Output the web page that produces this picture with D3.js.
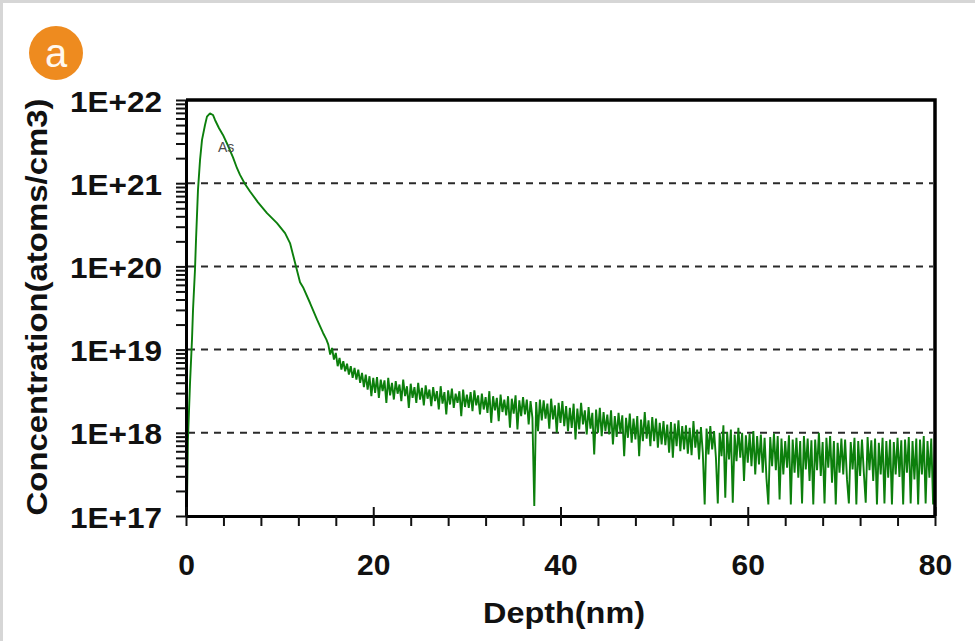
<!DOCTYPE html>
<html>
<head>
<meta charset="utf-8">
<script src="https://cdn.jsdelivr.net/npm/d3@7"></script>
<style>
  html, body { margin: 0; padding: 0; background: #fff; }
  svg { display: block; }
</style>
</head>
<body>
<svg width="975" height="641"></svg>
<script>
// SIMS depth profile of As (log10 of atoms/cm3 vs depth in nm)

// smooth part of the profile
var profileDepth = [0.1, 0.2, 0.43, 0.64, 0.75, 0.96, 1.07, 1.28, 1.5, 1.71, 2.03, 2.24, 2.56, 2.88,
  3.1, 3.53, 3.95, 4.49, 5.02, 5.45, 5.77, 6.3, 6.84, 7.69, 8.65, 9.72, 10.58, 11.11, 11.43,
  11.75, 12.18, 12.5, 13.25, 14.0, 14.64, 15.0];
var profileLog = [17.12, 17.9, 18.6, 19.12, 19.48, 19.96, 20.32, 20.92, 21.28, 21.52, 21.7, 21.8, 21.84, 21.82,
  21.76, 21.66, 21.58, 21.45, 21.31, 21.18, 21.1, 20.99, 20.9, 20.77, 20.64, 20.52, 20.4, 20.28, 20.14,
  20.0, 19.81, 19.75, 19.56, 19.36, 19.2, 19.12];

// noisy tail, one reading every 0.2 nm from 15.2 nm to 80 nm
var tailStart = 15.2, tailStep = 0.2;
var tailLog = [
  19.06, 18.94, 19.02, 18.88, 18.96,
  18.80, 18.90, 18.76, 18.86, 18.74,
  18.83, 18.70, 18.80, 18.66, 18.78,
  18.64, 18.76, 18.60, 18.72, 18.55,
  18.70, 18.52, 18.68, 18.44, 18.66,
  18.48, 18.67, 18.42, 18.64, 18.50,
  18.63, 18.36, 18.66, 18.45, 18.60,
  18.40, 18.62, 18.47, 18.58, 18.38,
  18.64, 18.44, 18.56, 18.30, 18.59,
  18.42, 18.55, 18.36, 18.60, 18.40,
  18.54, 18.33, 18.57, 18.41, 18.52,
  18.32, 18.55, 18.38, 18.50, 18.28,
  18.56, 18.35, 18.49, 18.22, 18.51,
  18.34, 18.53, 18.30, 18.47, 18.36,
  18.50, 18.20, 18.52, 18.31, 18.46,
  18.30, 18.49, 18.26, 18.51, 18.33,
  18.45, 18.22, 18.47, 18.28, 18.43,
  18.24, 18.50, 18.12, 18.44, 18.27,
  18.42, 18.14, 18.46, 18.25, 18.40,
  18.21, 18.44, 18.06, 18.41, 18.23,
  18.45, 18.04, 18.39, 18.20, 18.43,
  18.22, 18.40, 18.10, 18.38, 18.18,
  17.12, 18.37, 18.02, 18.40, 18.15,
  18.39, 18.17, 18.35, 18.05, 18.41,
  18.16, 18.33, 18.00, 18.36, 18.12,
  18.38, 18.08, 18.32, 18.02, 18.30,
  18.06, 18.35, 17.92, 18.29, 18.04,
  18.36, 18.10, 18.27, 17.98, 18.31,
  18.05, 18.24, 17.74, 18.28, 18.00,
  18.30, 17.96, 18.25, 18.02, 18.22,
  17.98, 18.27, 17.86, 18.20, 17.95,
  18.24, 18.00, 18.21, 17.72, 18.18,
  17.94, 18.23, 17.88, 18.17, 17.92,
  18.20, 17.72, 18.16, 17.90, 18.25,
  17.93, 18.15, 17.84, 18.19, 17.90,
  18.17, 17.82, 18.12, 17.86, 18.14,
  17.85, 18.10, 17.76, 18.13, 17.70,
  18.11, 17.84, 18.15, 17.78, 18.08,
  17.80, 18.09, 17.75, 18.06, 17.73,
  18.14, 17.82, 18.04, 17.68, 18.07,
  17.76, 17.14, 18.05, 17.74, 18.08,
  17.80, 18.02, 17.70, 17.15, 18.00,
  17.72, 18.09, 17.22, 18.01, 17.68,
  18.04, 17.16, 17.98, 17.66, 18.06,
  17.70, 18.00, 17.42, 17.97, 17.64,
  17.99, 17.60, 18.02, 17.50, 17.96,
  17.62, 17.98, 17.52, 17.94, 17.45,
  17.14, 17.95, 17.60, 17.99, 17.55,
  17.96, 17.20, 17.93, 17.50, 17.90,
  17.58, 17.97, 17.14, 17.92, 17.52,
  17.94, 17.46, 17.90, 17.15, 17.96,
  17.56, 17.93, 17.42, 17.91, 17.14,
  17.92, 17.55, 18.00, 17.48, 17.89,
  17.15, 17.94, 17.58, 17.96, 17.40,
  17.90, 17.14, 17.88, 17.52, 17.93,
  17.50, 17.92, 17.44, 17.15, 17.89,
  17.56, 17.94, 17.14, 17.90, 17.48,
  17.92, 17.52, 17.16, 17.95, 17.55,
  17.91, 17.42, 17.93, 17.14, 17.88,
  17.50, 17.94, 17.15, 17.90, 17.46,
  17.92, 17.14, 17.89, 17.50, 17.94,
  17.47, 17.91, 17.14, 17.92, 17.52,
  17.95, 17.15, 17.90, 17.44, 17.93,
  17.14, 17.92, 17.50, 17.96, 17.15,
  17.90, 17.46, 17.93, 17.14, 17.88
];

var xTicks = [0, 20, 40, 60, 80];
var yDecades = [1e17, 1e18, 1e19, 1e20, 1e21, 1e22];
var yTickLabels = ["1E+17", "1E+18", "1E+19", "1E+20", "1E+21", "1E+22"];
var gridDecades = [1e18, 1e19, 1e20, 1e21];

var plot = {left: 186, right: 935, top: 100, bottom: 516};
var font = "'Liberation Sans', Arial, sans-serif";
var green = "#0c7f0c";

var svg = d3.select("svg");

// light frame of the picture
svg.append("rect")
  .attr("x", 1.5).attr("y", 1.5)
  .attr("width", 980).attr("height", 650)
  .attr("fill", "none")
  .attr("stroke", "#d6d6d6")
  .attr("stroke-width", 3);

var xScale = d3.scaleLinear().domain([0, 80]).range([plot.left, plot.right]);
var yScale = d3.scaleLog().domain([1e17, 1e22]).range([plot.bottom, plot.top]);

// gridlines
svg.append("g")
  .selectAll("line")
  .data(gridDecades)
  .enter()
  .append("line")
  .attr("x1", plot.left + 2)
  .attr("x2", plot.right - 2)
  .attr("y1", function(d) { return yScale(d); })
  .attr("y2", function(d) { return yScale(d); })
  .attr("stroke", "#2a2a2a")
  .attr("stroke-width", 2)
  .attr("stroke-dasharray", "7,6");

// data
var points = [];
profileDepth.forEach(function(d, i) {
  points.push([d, Math.pow(10, profileLog[i])]);
});
tailLog.forEach(function(v, i) {
  points.push([tailStart + i * tailStep, Math.pow(10, v)]);
});

svg.append("clipPath").attr("id", "clip")
  .append("rect")
  .attr("x", plot.left).attr("y", plot.top)
  .attr("width", plot.right - plot.left).attr("height", plot.bottom - plot.top);

var line = d3.line()
  .x(function(d) { return xScale(d[0]); })
  .y(function(d) { return yScale(d[1]); });

svg.append("path")
  .datum(points)
  .attr("clip-path", "url(#clip)")
  .attr("d", line)
  .attr("fill", "none")
  .attr("stroke", green)
  .attr("stroke-width", 1.9)
  .attr("stroke-linejoin", "bevel");

svg.append("text")
  .attr("x", 218).attr("y", 152)
  .attr("font-family", font)
  .attr("font-size", 14)
  .attr("fill", "#4a4a4a")
  .text("As");

// y axis: decades plus 2..9 minors
var yTickValues = [];
yDecades.forEach(function(d) {
  for (var k = 1; k < 10; k++) {
    if (d * k <= 1e22) yTickValues.push(d * k);
  }
});

var yAxis = d3.axisLeft(yScale)
  .tickValues(yTickValues)
  .tickSize(10)
  .tickSizeOuter(0)
  .tickFormat(function(d) {
    var i = yDecades.indexOf(d);
    return i >= 0 ? yTickLabels[i] : "";
  });

var gy = svg.append("g")
  .attr("transform", "translate(" + plot.left + ",0)")
  .call(yAxis);
gy.select(".domain").attr("stroke", "#000").attr("stroke-width", 3);
gy.selectAll(".tick line").attr("stroke", "#111").attr("stroke-width", 2);
gy.selectAll(".tick text")
  .attr("x", -24)
  .attr("dy", 11)
  .attr("font-family", font)
  .attr("font-size", 30)
  .attr("font-weight", "bold")
  .attr("fill", "#111")
  .attr("textLength", function() { return this.textContent ? 92 : null; })
  .attr("lengthAdjust", "spacingAndGlyphs");

// x axis: minors every 4 nm
var xTickValues = d3.range(0, 81, 4);
var xAxis = d3.axisBottom(xScale)
  .tickValues(xTickValues)
  .tickSize(10)
  .tickSizeOuter(0)
  .tickFormat(function(d) { return xTicks.indexOf(d) >= 0 ? d : ""; });

var gx = svg.append("g")
  .attr("transform", "translate(0," + plot.bottom + ")")
  .call(xAxis);
gx.select(".domain").attr("stroke", "#000").attr("stroke-width", 3);
gx.selectAll(".tick line")
  .attr("stroke", "#111")
  .attr("stroke-width", 2)
  .attr("y1", function(d) { return xTicks.indexOf(d) >= 0 ? -9 : 0; });
gx.selectAll(".tick text")
  .attr("y", 59)
  .attr("dy", 0)
  .attr("font-family", font)
  .attr("font-size", 30)
  .attr("font-weight", "bold")
  .attr("fill", "#111");

// top and right frame
svg.append("path")
  .attr("d", "M" + plot.left + "," + plot.top + "H" + plot.right + "V" + plot.bottom)
  .attr("fill", "none")
  .attr("stroke", "#000")
  .attr("stroke-width", 3.5);

// axis titles
svg.append("text")
  .attr("transform", "translate(47,307) rotate(-90)")
  .attr("text-anchor", "middle")
  .attr("font-family", font)
  .attr("font-size", 30)
  .attr("font-weight", "bold")
  .attr("fill", "#111")
  .attr("textLength", 417)
  .attr("lengthAdjust", "spacingAndGlyphs")
  .text("Concentration(atoms/cm3)");

svg.append("text")
  .attr("x", 564).attr("y", 623)
  .attr("text-anchor", "middle")
  .attr("font-family", font)
  .attr("font-size", 30)
  .attr("font-weight", "bold")
  .attr("fill", "#111")
  .attr("textLength", 162)
  .attr("lengthAdjust", "spacingAndGlyphs")
  .text("Depth(nm)");

// panel badge
svg.append("circle")
  .attr("cx", 56).attr("cy", 53).attr("r", 27)
  .attr("fill", "#ee8b1f");
svg.append("text")
  .attr("x", 56).attr("y", 67)
  .attr("text-anchor", "middle")
  .attr("font-family", font)
  .attr("font-size", 40)
  .attr("fill", "#fff8ee")
  .text("a");
</script>
</body>
</html>
